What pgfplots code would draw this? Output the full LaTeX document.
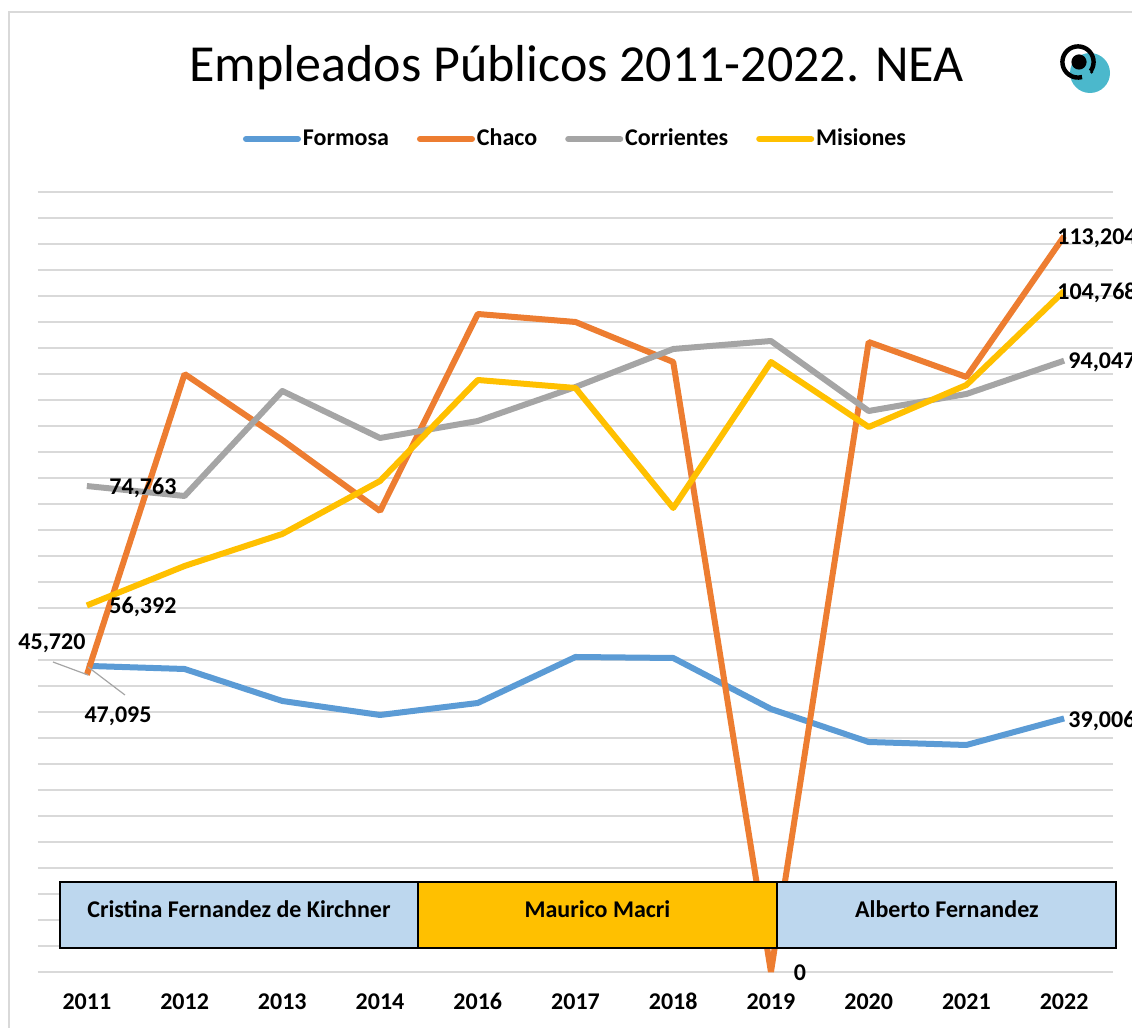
\documentclass[border=0pt]{standalone}
\usepackage{fontspec}
\setmainfont{Carlito}
\usepackage{pgfplots}
\pgfplotsset{compat=1.18}

\definecolor{cFor}{HTML}{5B9BD5}
\definecolor{cCha}{HTML}{ED7D31}
\definecolor{cCor}{HTML}{A5A5A5}
\definecolor{cMis}{HTML}{FFC000}
\definecolor{boxblue}{HTML}{BDD7EE}
\definecolor{gridgray}{HTML}{D9D9D9}
\definecolor{teal}{HTML}{4BB8CC}

% x = 0..10 for 2011,2012,2013,2014,2016,2017,2018,2019,2020,2021,2022
\pgfplotstableread{
x formosa chaco corrientes misiones
0  47095  45720  74763 56392
1  46615  92000  73231 62462
2  41692  81846  89385 67385
3  39538  70923  82154 75538
4  41385 101231  84769 91077
5  48462 100000  90000 89846
6  48308  93846  95846 71385
7  40462      0  97077 93846
8  35385  96923  86308 83846
9  34923  91538  88923 90308
10 39006 113204  94047 104768
}\datatable

\begin{document}
\begin{tikzpicture}
\path[use as bounding box] (-19pt,-28pt) rectangle (547pt,486pt);
% frame of the chart area
\draw[gridgray, line width=0.8pt] (-14.5pt,-40pt) -- (-14.5pt,480pt) -- (560pt,480pt);
\begin{axis}[
  scale only axis,
  width=537.5pt, height=390pt,
  at={(0,0)}, anchor=south west,
  xmin=-0.5, xmax=10.5,
  ymin=0, ymax=120000,
  xtick={0,...,10},
  xticklabels={2011,2012,2013,2014,2016,2017,2018,2019,2020,2021,2022},
  xticklabel style={font=\bfseries\fontsize{12}{14}\selectfont,
    text height=8pt, text depth=0pt, yshift=-7pt},
  ytick={0,4000,...,120000},
  yticklabels={},
  scaled y ticks=false,
  ymajorgrids=true,
  grid style={gridgray, line width=0.9pt},
  major tick length=0pt,
  axis line style={draw=none},
  clip=false,
  legend columns=4,
  legend style={draw=none, fill=none,
    at={(axis description cs:0.5,1.068)}, anchor=center,
    font=\bfseries\fontsize{12}{14}\selectfont,
    /tikz/every even column/.append style={column sep=13pt},
    inner sep=0pt, nodes={inner sep=1pt}},
  legend image code/.code={\draw[#1, line width=3pt, line cap=round] (0pt,0pt) -- (26pt,0pt);},
  every axis plot/.append style={line width=3pt, line join=round, mark=none},
]
\addplot[cFor] table[x=x, y=formosa] {\datatable};
\addplot[cCha, line join=bevel] table[x=x, y=chaco] {\datatable};
\addplot[cCor] table[x=x, y=corrientes] {\datatable};
\addplot[cMis] table[x=x, y=misiones] {\datatable};
\legend{Formosa,Chaco,Corrientes,Misiones}

% government periods
\draw[black, line width=0.8pt, fill=boxblue] (axis cs:-0.275,3692) rectangle (axis cs:3.388,13846);
\draw[black, line width=0.8pt, fill=cMis] (axis cs:3.388,3692) rectangle (axis cs:7.062,13846);
\draw[black, line width=0.8pt, fill=boxblue] (axis cs:7.062,3692) rectangle (axis cs:10.531,13846);
\begin{scope}[every node/.style={font=\bfseries\fontsize{12}{14}\selectfont}]
\node at (axis cs:1.556,9600) {Cristina Fernandez de Kirchner};
\node at (axis cs:5.225,9600) {Maurico Macri};
\node at (axis cs:8.80,9600) {Alberto Fernandez};
\end{scope}

% data labels
\begin{scope}[every node/.style={font=\bfseries\fontsize{12}{14}\selectfont, inner sep=0pt}]
\draw[cCor, line width=0.6pt] (axis cs:-0.347,47692) -- (axis cs:0.012,45692);
\draw[cCor, line width=0.6pt] (axis cs:0.012,46923) -- (axis cs:0.390,42615);
\node at (axis cs:-0.357,50615) {45,720};
\node at (axis cs:0.319,39385) {47,095};
\node at (axis cs:0.574,74462) {74,763};
\node at (axis cs:0.574,56154) {56,392};
\node[anchor=west] at (axis cs:9.927,112923) {113,204};
\node[anchor=west] at (axis cs:9.927,104460) {104,768};
\node[anchor=west] at (axis cs:10.04,93846) {94,047};
\node[anchor=west] at (axis cs:10.04,38615) {39,006};
\node at (axis cs:7.297,-150) {0};
\end{scope}

% title
\node[font=\fontsize{26}{30}\selectfont] at (axis description cs:0.501,1.159) {Empleados Públicos 2011-2022. NEA};
\end{axis}
% logo
\fill[teal] (526pt,449.5pt) circle (10pt);
\draw[black, line width=2.2pt] (520pt,455pt) ++(-35:7.8pt) arc[start angle=-35, end angle=285, radius=7.8pt];
\fill[black] (520.5pt,455pt) circle (3.8pt);
\fill[black] (526.8pt,450pt) circle (0.9pt);
\end{tikzpicture}
\end{document}
